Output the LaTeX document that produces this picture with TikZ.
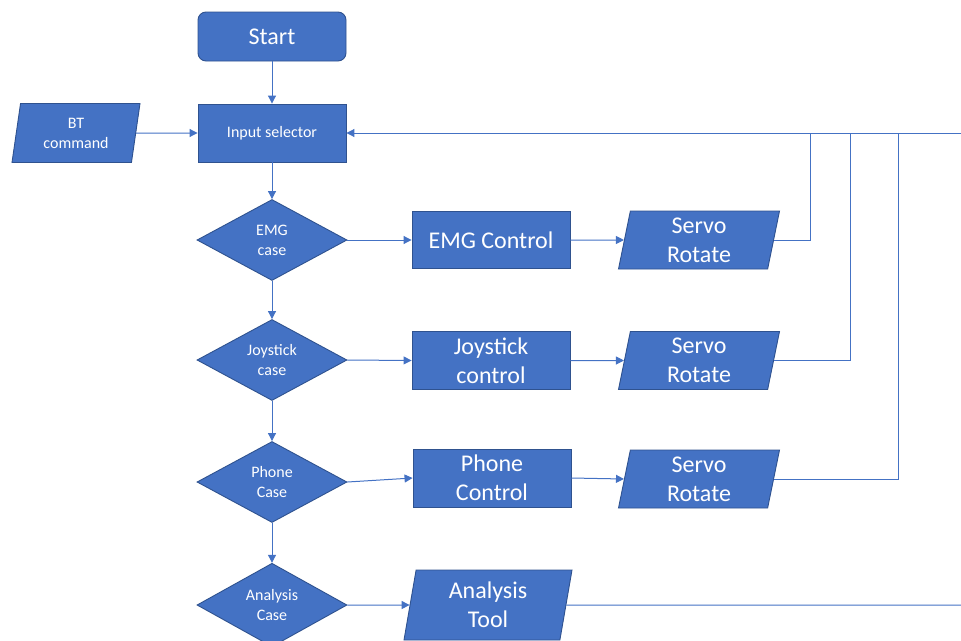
\documentclass[tikz,border=0pt]{standalone}
\usepackage{fontspec}
\setmainfont{Carlito}
\usetikzlibrary{arrows.meta}
\usetikzlibrary{shapes.geometric}
\definecolor{boxblue}{HTML}{4472C4}
\definecolor{boxedge}{HTML}{2F528F}
\newcommand{\bigtxt}{\fontsize{24}{29}\selectfont}
\newcommand{\midtxt}{\fontsize{16}{20}\selectfont}
\newcommand{\smalltxt}{\fontsize{16}{20}\selectfont}
\tikzset{
    flowbox/.style={draw=boxedge, fill=boxblue, text=white, line width=0.9pt, align=center, font=\bigtxt},
    procbox/.style={flowbox, rectangle, minimum width=158pt, minimum height=58pt},
    iobox/.style={flowbox, trapezium, trapezium left angle=77, trapezium right angle=103,
        trapezium stretches body, minimum height=58pt},
    casebox/.style={flowbox, diamond, minimum width=150pt, minimum height=81pt, inner sep=0pt, font=\smalltxt},
    flowarrow/.style={-{Triangle[length=8pt,width=8pt]}, draw=boxblue, line width=1pt},
    flowline/.style={-, draw=boxblue, line width=1pt}
}

\begin{document}
\begin{tikzpicture}[x=1pt, y=-1pt]
    \useasboundingbox (0,0) rectangle (961,640);

    % main column
    \node[flowbox, rounded corners=8pt, minimum width=148pt, minimum height=49pt] (start) at (272,36.5) {Start};
    \node[procbox, minimum width=148pt, font=\midtxt] (input) at (272,133) {Input selector};
    \node[iobox, minimum width=128pt, minimum height=59pt, font=\smalltxt] (bt) at (76,133) {BT\\command};
    \node[casebox] (emg) at (272,240) {EMG\\case};
    \node[casebox] (joy) at (272,360) {Joystick\\case};
    \node[casebox] (phone) at (272,482) {Phone\\Case};
    \node[casebox] (anal) at (272,605) {Analysis\\Case};

    % control blocks
    \node[procbox, minimum height=57pt] (emgctrl) at (491,240) {EMG Control};
    \node[procbox] (joyctrl) at (491,360.5) {Joystick\\control};
    \node[procbox] (phonectrl) at (492,478) {Phone\\Control};
    \node[iobox, minimum width=168pt, minimum height=70pt] (tool) at (488,605) {Analysis\\Tool};

    % servo outputs
    \node[iobox, minimum width=161pt] (servo1) at (699,240) {Servo\\Rotate};
    \node[iobox, minimum width=161pt] (servo2) at (699,360.5) {Servo\\Rotate};
    \node[iobox, minimum width=161pt] (servo3) at (699,479) {Servo\\Rotate};

    % return bus
    \coordinate (back1) at (810,133);
    \coordinate (back2) at (850,133);
    \coordinate (back3) at (898,133);
    \coordinate (backend) at (961,133);
    \coordinate (toolend) at (961,605);

    \draw[flowarrow] (start) -- (input);
    \draw[flowarrow] (bt) -- (input);
    \draw[flowarrow] (input) -- (emg);
    \draw[flowarrow] (emg) -- (joy);
    \draw[flowarrow] (joy) -- (phone);
    \draw[flowarrow] (phone) -- (anal);

    \draw[flowarrow] (emg.east) -- (emgctrl.west);
    \draw[flowarrow] (joy.east) -- (joyctrl.west);
    \draw[flowarrow] (phone.east) -- (phonectrl.west);
    \draw[flowarrow] (anal.east) -- (tool.west);

    \draw[flowarrow] (emgctrl.east) -- (servo1.west);
    \draw[flowarrow] (joyctrl.east) -- (servo2.west);
    \draw[flowarrow] (phonectrl.east) -- (servo3.west);

    \draw[flowline] (servo1.east) -| (back1);
    \draw[flowline] (servo2.east) -| (back2);
    \draw[flowline] (servo3.east) -| (back3);
    \draw[flowarrow] (backend) -- (input.east);
    \draw[flowline] (tool.east) -- (toolend);
\end{tikzpicture}
\end{document}
